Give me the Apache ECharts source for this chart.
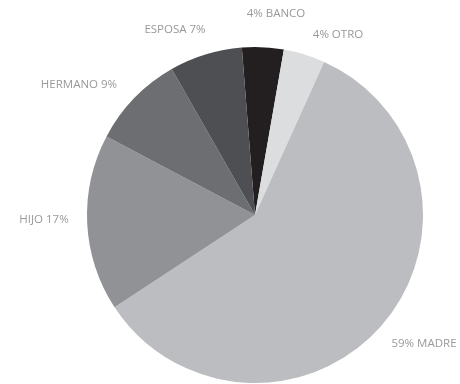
<!DOCTYPE html>
<html>
<head>
<meta charset="utf-8">
<style>
  html, body { margin: 0; padding: 0; background: #fff; }
  #chart { width: 460px; height: 384px; }
</style>
<script src="https://cdn.jsdelivr.net/npm/echarts@6/dist/echarts.min.js"></script>
</head>
<body>
<div id="chart"></div>
<script>
// Slices in clockwise order, starting just left of 12 o'clock
const categories = ['BANCO', 'OTRO', 'MADRE', 'HIJO', 'HERMANO', 'ESPOSA'];
const shares = [4, 4, 59, 17, 9, 7];

const sliceColors = ['#231f20', '#dcddde', '#bcbdc0', '#919295', '#6d6e71', '#4e4f52'];
// Label anchor points (px), same order as the categories
const labelSpots = [[276, 14], [338, 35], [424, 344], [44, 220], [79, 85], [175, 30]];

const startAngle = 94.5;
const total = shares.reduce((a, b) => a + b, 0);

// Percent-first text on the right half, name-first on the left half
function labelText(i) {
  let before = 0;
  for (let k = 0; k < i; k++) before += shares[k];
  const mid = startAngle - (before + shares[i] / 2) / total * 360;
  const rightSide = Math.cos(mid * Math.PI / 180) > 0;
  return rightSide ? shares[i] + '% ' + categories[i] : categories[i] + ' ' + shares[i] + '%';
}

const chart = echarts.init(document.getElementById('chart'), null, { renderer: 'canvas' });
chart.setOption({
  animation: false,
  series: [{
    type: 'pie',
    center: [255, 215],
    radius: 168,
    startAngle: startAngle,
    clockwise: true,
    avoidLabelOverlap: false,
    data: categories.map((name, i) => ({
      name: name,
      value: shares[i],
      itemStyle: { color: sliceColors[i] }
    })),
    itemStyle: { borderWidth: 0 },
    label: {
      show: true,
      position: 'outside',
      formatter: p => labelText(p.dataIndex),
      color: '#999999',
      fontFamily: 'Open Sans',
      fontSize: 11.5
    },
    labelLine: { show: false },
    labelLayout: p => ({
      x: labelSpots[p.dataIndex][0],
      y: labelSpots[p.dataIndex][1],
      align: 'center',
      verticalAlign: 'middle'
    }),
    emphasis: { disabled: true }
  }]
});
</script>
</body>
</html>
